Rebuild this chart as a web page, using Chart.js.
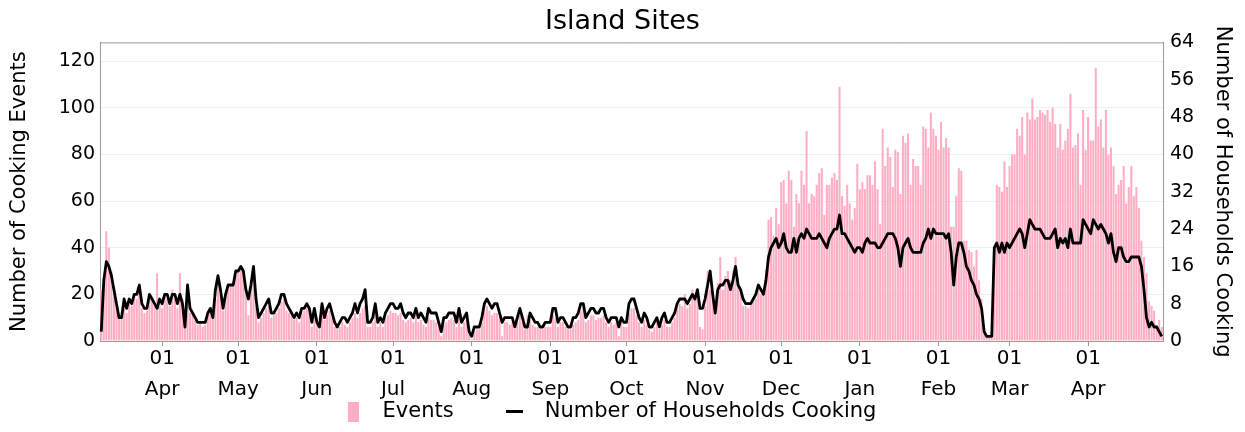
<!DOCTYPE html>
<html>
<head>
<meta charset="utf-8">
<script src="https://cdn.jsdelivr.net/npm/chart.js@4.4.1/dist/chart.umd.min.js"></script>
<style>
  html, body { margin: 0; padding: 0; background: #fff; }
  #wrap { width: 1245px; height: 432px; }
</style>
</head>
<body>
<div id="wrap"><canvas id="chart"></canvas></div>
<script>
// first day of the series, one value per day after that
const startDate = Date.UTC(2021, 2, 8);
const monthNames = ["Jan", "Feb", "Mar", "Apr", "May", "Jun", "Jul", "Aug", "Sep", "Oct", "Nov", "Dec"];

// daily cooking events (left axis)
const events = [
  22, 25, 47, 40, 30, 20, 14, 10, 11, 16, 12, 17, 15, 19, 18, 22, 14, 12, 13, 20, 17, 15, 29, 17, // Mar
  14, 19, 18, 15, 22, 18, 14, 29, 18, 6, 22, 12, 11, 9, 7, 8, 6, 7, 11, 13, 10, 18, 26, 20, 13, 20, 23, 24, 25, 28, // Apr
  30, 31, 29, 22, 11, 24, 30, 15, 8, 10, 12, 14, 15, 10, 11, 12, 14, 17, 18, 13, 12, 11, 9, 10, 8, 12, 13, 14, 12, 6, 12, // May
  7, 5, 12, 9, 11, 13, 10, 6, 5, 6, 8, 7, 6, 8, 10, 12, 10, 12, 14, 15, 6, 6, 8, 12, 6, 8, 6, 10, 11, 13, // Jun
  12, 12, 11, 12, 9, 8, 9, 10, 8, 11, 8, 9, 7, 6, 10, 9, 9, 8, 6, 2, 7, 8, 9, 10, 9, 6, 11, 6, 8, 9, 3, // Jul
  1, 4, 5, 5, 8, 13, 15, 13, 11, 12, 12, 10, 2, 8, 8, 7, 8, 5, 8, 11, 8, 5, 11, 9, 7, 6, 6, 5, 5, 6, 6, // Aug
  6, 11, 10, 6, 8, 8, 6, 5, 5, 7, 8, 9, 13, 14, 8, 9, 11, 11, 9, 10, 10, 11, 8, 6, 8, 7, 8, 2, 8, 6, // Sep
  6, 12, 14, 14, 11, 8, 6, 9, 7, 5, 4, 6, 8, 5, 7, 9, 6, 6, 8, 10, 14, 16, 15, 20, 14, 16, 22, 18, 20, 6, 5, // Oct
  15, 30, 22, 18, 12, 25, 36, 22, 28, 30, 26, 30, 36, 27, 22, 15, 15, 14, 16, 17, 18, 22, 20, 22, 30, 52, 53, 45, 57, 50, // Nov
  68, 69, 59, 73, 69, 49, 63, 59, 73, 67, 90, 59, 63, 62, 67, 72, 74, 54, 67, 67, 70, 72, 69, 109, 62, 58, 67, 59, 52, 57, 76, // Dec
  65, 68, 65, 71, 71, 67, 77, 65, 50, 91, 75, 83, 79, 66, 82, 81, 63, 88, 85, 89, 67, 78, 75, 75, 67, 92, 91, 83, 98, 91, 88, // Jan
  82, 94, 83, 87, 83, 49, 49, 62, 74, 73, 43, 43, 39, 38, 32, 39, 26, 18, 4, 2, 2, 3, 40, 67, 66, 64, 77, 66, // Feb
  75, 80, 80, 91, 88, 96, 80, 98, 95, 104, 95, 96, 99, 98, 97, 99, 94, 100, 93, 83, 93, 82, 86, 91, 106, 83, 84, 89, 67, 99, 82, // Mar
  96, 86, 86, 117, 92, 95, 83, 99, 80, 83, 75, 63, 67, 69, 75, 59, 66, 75, 62, 66, 57, 43, 36, 29, 17, 15, 13, 7, 9, 6 // Apr
];

// households cooking per day (right axis)
const households = [
  2, 13, 17, 16, 14, 11, 8, 5, 5, 9, 7, 9, 8, 10, 10, 12, 8, 7, 7, 10, 9, 8, 7, 9, // Mar
  8, 10, 10, 8, 10, 10, 8, 10, 8, 3, 12, 7, 6, 5, 4, 4, 4, 4, 6, 7, 5, 11, 14, 11, 7, 10, 12, 12, 12, 15, // Apr
  15, 16, 15, 11, 9, 12, 16, 9, 5, 6, 7, 8, 9, 6, 6, 7, 8, 10, 10, 8, 7, 6, 5, 6, 5, 7, 7, 8, 7, 4, 7, // May
  4, 3, 8, 5, 7, 8, 6, 4, 3, 4, 5, 5, 4, 5, 6, 8, 6, 8, 9, 11, 4, 4, 5, 8, 4, 5, 4, 6, 7, 8, // Jun
  8, 7, 7, 8, 6, 5, 6, 6, 5, 7, 5, 6, 5, 4, 7, 6, 6, 6, 4, 2, 5, 5, 6, 6, 6, 4, 7, 4, 5, 6, 2, // Jul
  1, 3, 3, 3, 5, 8, 9, 8, 7, 8, 8, 6, 4, 5, 5, 5, 5, 3, 5, 7, 5, 3, 3, 6, 5, 4, 4, 3, 3, 4, 4, // Aug
  4, 7, 7, 4, 5, 5, 4, 3, 3, 5, 5, 6, 8, 8, 5, 6, 7, 7, 6, 6, 7, 7, 5, 4, 5, 5, 5, 3, 5, 4, // Sep
  4, 8, 9, 9, 7, 5, 4, 6, 5, 3, 3, 4, 5, 3, 5, 6, 4, 4, 5, 6, 8, 9, 9, 9, 8, 9, 10, 9, 11, 7, 7, // Oct
  9, 12, 15, 10, 6, 11, 12, 12, 13, 13, 11, 13, 16, 12, 11, 9, 8, 8, 8, 9, 10, 12, 11, 10, 13, 18, 20, 21, 22, 20, // Nov
  21, 23, 20, 19, 19, 22, 19, 22, 23, 22, 24, 23, 22, 22, 22, 23, 22, 21, 20, 22, 23, 24, 24, 27, 23, 23, 22, 21, 20, 19, 20, // Dec
  20, 19, 21, 22, 21, 21, 21, 20, 20, 21, 22, 23, 23, 23, 22, 20, 16, 20, 21, 22, 20, 19, 19, 19, 19, 21, 22, 24, 22, 24, 23, // Jan
  23, 23, 23, 22, 23, 19, 12, 18, 21, 21, 19, 16, 15, 13, 12, 10, 9, 7, 2, 1, 1, 1, 20, 21, 19, 21, 19, 21, // Feb
  20, 21, 22, 23, 24, 23, 20, 23, 26, 25, 24, 24, 24, 23, 22, 22, 22, 23, 24, 20, 22, 21, 22, 20, 24, 21, 21, 21, 21, 26, 25, // Mar
  24, 23, 26, 25, 24, 25, 24, 23, 21, 23, 19, 17, 20, 20, 18, 17, 17, 18, 18, 18, 18, 16, 11, 5, 3, 4, 3, 3, 2, 1 // Apr
];

// axis ticks
const leftTicks = [0, 20, 40, 60, 80, 100, 120];
const rightTicks = [0, 8, 16, 24, 32, 40, 48, 56, 64];

const days = events.map((_, i) => new Date(startDate + i * 86400000));
const labels = days.map(d => d.toISOString().slice(0, 10));

const FONT = "'DejaVu Sans', sans-serif";
const PINK = '#ffadc3';
const FRAME = '#9a9a9a';

// legend markers: drawn off-centre inside a wide box so the spacing matches
function makeMarker(w, h, x0, mw, color) {
  const c = document.createElement('canvas');
  c.width = w;
  c.height = h;
  const g = c.getContext('2d');
  g.fillStyle = color;
  g.fillRect(x0, 0, mw, h);
  return c;
}
const squareMarker = makeMarker(52, 20, 41, 11, PINK);
const dashMarker = makeMarker(56, 3, 39, 17, '#000');

// top edge of the plot frame + nudge the legend row to the left
const framePlugin = {
  id: 'frame',
  afterLayout(chart) {
    chart.legend.right -= 75;
  },
  afterDraw(chart) {
    const a = chart.chartArea;
    const ctx = chart.ctx;
    ctx.save();
    ctx.strokeStyle = FRAME;
    ctx.lineWidth = 1;
    ctx.beginPath();
    ctx.moveTo(a.left, a.top + 0.5);
    ctx.lineTo(a.right, a.top + 0.5);
    ctx.stroke();
    ctx.restore();
  }
};

new Chart(document.getElementById('chart'), {
  data: {
    labels: labels,
    datasets: [
      {
        type: 'bar',
        label: 'Events',
        data: events,
        yAxisID: 'y',
        backgroundColor: PINK,
        borderWidth: 0,
        barPercentage: 0.8,
        categoryPercentage: 1.0,
        pointStyle: squareMarker,
        order: 1
      },
      {
        type: 'line',
        label: 'Number of Households Cooking',
        data: households,
        yAxisID: 'y1',
        borderColor: '#000',
        backgroundColor: '#000',
        borderWidth: 2.8,
        pointRadius: 0,
        pointStyle: dashMarker,
        tension: 0,
        borderJoinStyle: 'round',
        order: 0
      }
    ]
  },
  options: {
    responsive: true,
    maintainAspectRatio: false,
    animation: false,
    layout: { padding: 0 },
    plugins: {
      title: {
        display: true,
        text: 'Island Sites',
        color: '#000',
        font: { family: FONT, size: 27, weight: 'normal' },
        padding: { top: 6, bottom: 4 }
      },
      legend: {
        position: 'bottom',
        labels: {
          color: '#000',
          font: { family: FONT, size: 21 },
          usePointStyle: true,
          pointStyleWidth: 78.5,
          padding: 2,
          sort: (a, b) => a.datasetIndex - b.datasetIndex
        }
      },
      tooltip: { enabled: false }
    },
    scales: {
      x: {
        type: 'category',
        offset: true,
        grid: { display: true, offset: false, drawOnChartArea: false, drawTicks: true, tickLength: 5, color: FRAME },
        border: { display: true, color: FRAME },
        ticks: {
          autoSkip: false,
          maxRotation: 0,
          minRotation: 0,
          padding: -3,
          color: '#000',
          font: { family: FONT, size: 20, lineHeight: 1.55 },
          callback: (val, idx) => {
            const d = days[idx];
            if (d && d.getUTCDate() === 1) return ['01', monthNames[d.getUTCMonth()]];
            return null;
          }
        },
        afterFit: scale => { scale.height = 58; }
      },
      y: {
        position: 'left',
        min: 0,
        max: 128,
        afterBuildTicks: scale => { scale.ticks = leftTicks.map(v => ({ value: v })); },
        grid: { color: '#eeeeee', drawTicks: false },
        border: { display: true, color: FRAME },
        ticks: { color: '#000', padding: 5, font: { family: FONT, size: 19 } },
        title: {
          display: true,
          text: 'Number of Cooking Events',
          color: '#000',
          font: { family: FONT, size: 21 },
          padding: { top: 7, bottom: 0 }
        },
        afterFit: scale => { scale.width = 100; }
      },
      y1: {
        position: 'right',
        min: 0,
        max: 64,
        afterBuildTicks: scale => { scale.ticks = rightTicks.map(v => ({ value: v })); },
        grid: { drawOnChartArea: false, drawTicks: false },
        border: { display: true, color: FRAME },
        ticks: { color: '#000', padding: 7, font: { family: FONT, size: 19 } },
        title: {
          display: true,
          text: 'Number of Households Cooking',
          color: '#000',
          font: { family: FONT, size: 21 },
          padding: { top: 10, bottom: 0 }
        },
        afterFit: scale => { scale.width = 82; }
      }
    }
  },
  plugins: [framePlugin]
});
</script>
</body>
</html>
